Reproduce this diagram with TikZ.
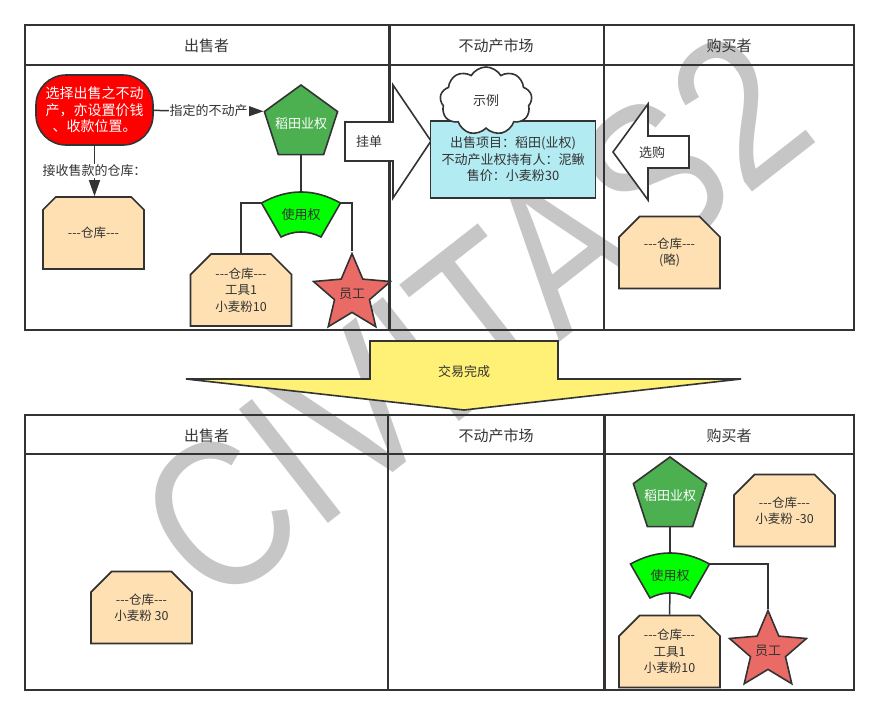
\documentclass[tikz,border=0pt]{standalone}
\usepackage{fontspec}
\setmainfont{Noto Sans CJK SC}
\newfontfamily\markfont{Liberation Sans}[FakeStretch=0.84]
\usetikzlibrary{arrows.meta,positioning,shapes.geometric,shapes.misc,shapes.symbols}
\definecolor{ink}{HTML}{333333}
\definecolor{storefill}{HTML}{FFE0B2}
\definecolor{estategreen}{HTML}{4CAF50}
\definecolor{rightgreen}{HTML}{00FF00}
\definecolor{staffred}{HTML}{EA6B66}
\definecolor{offerblue}{HTML}{B2EBF2}
\definecolor{dealyellow}{HTML}{FFF176}
\definecolor{markgray}{HTML}{C6C6C6}
\newcommand\dashrow{\mbox{-}\mbox{-}\mbox{-}}
\newcommand\usageshape[2]{%
  \begin{scope}[shift={#1}]
    \draw[usage] (-39.5,-12) .. controls (-13,-26.7) and (13,-26.7) .. (39.5,-12)
      -- (20,22) .. controls (7,15.3) and (-7,15.3) .. (-20,22) -- cycle;
    \node (#2) at (0,0) {使用权};
    \coordinate (#2-l) at (-39.5,-12);
    \coordinate (#2-r) at (39.5,-12);
    \coordinate (#2-t) at (0,-23);
    \coordinate (#2-b) at (0,17);
  \end{scope}}

\begin{document}
\begin{tikzpicture}[x=1pt,y=-1pt,
  font=\fontsize{13}{16.5}\selectfont, text=ink,
  pool/.style={draw=ink, line width=2pt},
  lanetitle/.style={font=\fontsize{15}{18}\selectfont},
  seller/.style={draw=ink, line width=1.6pt, fill=red, text=white, rounded corners=30pt,
    minimum width=117pt, minimum height=70pt, align=center, font=\fontsize{14}{16.5}\selectfont},
  estate/.style={regular polygon, regular polygon sides=5, draw=ink, line width=1.6pt,
    fill=estategreen, text=white, minimum size=77pt, inner sep=0pt},
  store/.style={chamfered rectangle, chamfered rectangle corners={north west,north east},
    chamfered rectangle xsep=17pt, draw=ink, line width=1.6pt, fill=storefill,
    minimum width=101pt, minimum height=72pt, align=center, font=\fontsize{12.5}{16.5}\selectfont},
  worker/.style={star, star points=5, star point ratio=2.2, draw=ink, line width=1.6pt,
    fill=staffred, minimum size=75pt, inner sep=0pt},
  usage/.style={draw=ink, line width=1.6pt, fill=rightgreen},
  offer/.style={draw=ink, line width=1.6pt, fill=offerblue, minimum width=165pt,
    minimum height=77pt, align=center},
  note/.style={cloud, cloud puffs=9, cloud puff arc=120, aspect=1.3, draw=ink, line width=1.6pt,
    fill=white, minimum width=92pt, minimum height=68pt},
  blockarrow/.style={draw=ink, line width=1.6pt, fill=white},
  deal/.style={draw=ink, line width=1.6pt, fill=dealyellow},
  link/.style={draw=ink, line width=1.5pt},
  flow/.style={link, -{Triangle[length=16pt,width=11pt]}},
  edgelabel/.style={fill=white, inner sep=1pt},
  watermark/.style={font=\markfont\fontsize{210}{210}\selectfont, text=markgray,
    rotate=38, inner sep=0pt}
]
\useasboundingbox (0,0) rectangle (879,715);
\node[watermark] (wm) at (474,318) {CIVITAS2};

\draw[pool] (25,25) rectangle (854,330);
\draw[pool] (25,65) -- (854,65);
\draw[pool, line width=3pt] (389,25) -- (389,330);
\draw[pool] (604,25) -- (604,330);
\draw[pool] (25,415) rectangle (854,690);
\draw[pool] (25,454) -- (854,454);
\draw[pool] (388,415) -- (388,690);
\draw[pool, line width=3pt] (604,415) -- (604,690);
\node[lanetitle] (sellhead) at (206.5,46) {出售者};
\node[lanetitle] (markethead) at (496,46) {不动产市场};
\node[lanetitle] (buyhead) at (729,46) {购买者};
\node[lanetitle] (sellhead2) at (206.5,436) {出售者};
\node[lanetitle] (markethead2) at (496,436) {不动产市场};
\node[lanetitle] (buyhead2) at (729,436) {购买者};

\node[seller] (sell) at (94.5,110) {选择出售之不动\\产，亦设置价钱\\、收款位置。};
\node[estate] (land1) at (301,123.5) {\makebox[0pt]{稻田业权}};
\node[store] (store1) at (93.5,233) {\dashrow 仓库\dashrow};
\usageshape{(301,215)}{use1}
\node[store] (store2) at (241,290) {\dashrow 仓库\dashrow\\工具1\\小麦粉10};
\node[worker] (staff1) at (352,294) {员工};
\draw[flow] (sell) -- node[edgelabel] {指定的不动产} (land1.corner 2);
\draw[flow] (sell.south) -- node[edgelabel] {接收售款的仓库：} (sell.south |- store1.north);
\draw[link] (land1.south) -- (use1-t);
\draw[link] (use1-l) -| (store2.north);
\draw[link] (use1-r) -| (staff1.north);

\draw[blockarrow] (345,122) -- (393,122) -- (393,85) -- (431,141) -- (393,198) -- (393,161) -- (345,161) -- cycle;
\node (post) at (369,142) {挂单};
\node[offer] (item) at (513,159.5) {出售项目：稻田(业权)\\不动产业权持有人：泥鳅\\售价：小麦粉30};
\node[note] (sample) at (486,101) {示例};
\draw[blockarrow] (689,136) -- (648,136) -- (648,104) -- (613,152) -- (648,200) -- (648,168) -- (689,168) -- cycle;
\node (pick) at (652,153) {选购};
\node[store] (store3) at (669.5,252.5) {\dashrow 仓库\dashrow\\(略)};

\draw[deal] (370,341) -- (558,341) -- (558,379) -- (741,379) -- (464,410) -- (186,379) -- (370,379) -- cycle;
\node (done) at (464,372) {交易完成};

\node[store] (store4) at (141.5,607.5) {\dashrow 仓库\dashrow\\小麦粉 30};
\node[estate] (land2) at (670,495.5) {\makebox[0pt]{稻田业权}};
\node[store] (store6) at (784.5,510.5) {\dashrow 仓库\dashrow\\小麦粉 -30};
\usageshape{(670,576)}{use2}
\node[store] (store5) at (669.5,651.5) {\dashrow 仓库\dashrow\\工具1\\小麦粉10};
\node[worker] (staff2) at (768,651) {员工};
\draw[link] (land2.south) -- (use2-t);
\draw[link] (use2-r) -| (staff2.north);
\draw[link] (use2-b) -- (store5.north);
\end{tikzpicture}
\end{document}
